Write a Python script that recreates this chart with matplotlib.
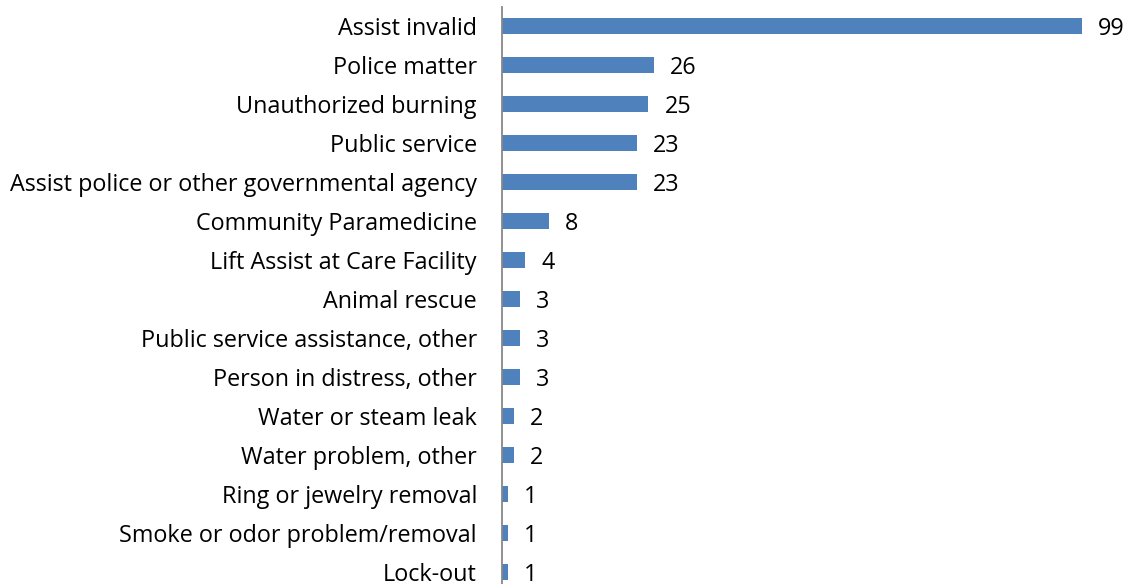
import matplotlib.pyplot as plt

categories = [
    "Assist invalid",
    "Police matter",
    "Unauthorized burning",
    "Public service",
    "Assist police or other governmental agency",
    "Community Paramedicine",
    "Lift Assist at Care Facility",
    "Animal rescue",
    "Public service assistance, other",
    "Person in distress, other",
    "Water or steam leak",
    "Water problem, other",
    "Ring or jewelry removal",
    "Smoke or odor problem/removal",
    "Lock-out",
]
counts = [99, 26, 25, 23, 23, 8, 4, 3, 3, 3, 2, 2, 1, 1, 1]

plt.rcParams['font.family'] = ['Open Sans', 'DejaVu Sans']

W, H = 1132, 584
fig = plt.figure(figsize=(W / 100, H / 100), dpi=100)
row_px = 39
n = len(categories)
top_px = 6.5
ax = fig.add_axes([502 / W, 1 - (top_px + n * row_px) / H, 580 / W, n * row_px / H])

y = list(range(n))
ax.barh(y, counts, height=0.41, color='#4F81BD')
ax.set_ylim(n - 0.5, -0.5)
ax.set_xlim(0, 99)

for yi, v in zip(y, counts):
    ax.annotate(str(v), (v, yi), xytext=(11.5, 0), textcoords='offset points',
                va='center_baseline', ha='left', fontsize=16.8, clip_on=False)

ax.set_yticks(y)
ax.set_yticklabels(categories, fontsize=16.8, va='center_baseline')
ax.tick_params(axis='y', length=0, pad=18)
ax.set_xticks([])
for side in ['top', 'right', 'bottom']:
    ax.spines[side].set_visible(False)
ax.spines['left'].set_color('#888888')
ax.spines['left'].set_linewidth(1.3)

fig.savefig('out.png', dpi=100)
